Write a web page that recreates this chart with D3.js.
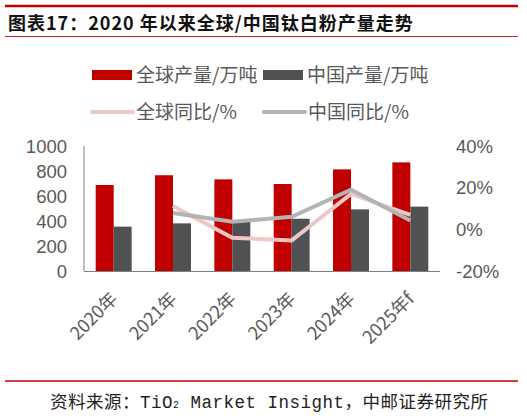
<!DOCTYPE html>
<html>
<head>
<meta charset="utf-8">
<script src="https://cdn.jsdelivr.net/npm/d3@7"></script>
<style>
  body { margin: 0; background: #fff; }
  text { font-family: "Noto Sans CJK SC", "Liberation Sans", sans-serif; }
</style>
</head>
<body>
<div id="chart"></div>
<script>
// data
var years = ["2020年", "2021年", "2022年", "2023年", "2024年", "2025年f"];
var globalOutput = [688, 766, 733, 696, 813, 869];
var chinaOutput = [355, 381, 395, 418, 493, 515];
var globalYoy = [null, 11.2, -4.0, -5.3, 17.0, 6.9];
var chinaYoy = [null, 7.8, 3.6, 6.0, 19.0, 4.2];
var leftTicks = [0, 200, 400, 600, 800, 1000];
var rightTicks = [-20, 0, 20, 40];

var red = "#c00000", dark = "#4f5153", pink = "#efc7c7", grey = "#b3b3b3";

var svg = d3.select("#chart").append("svg").attr("width", 527).attr("height", 416);

// frame lines + title
svg.append("line").attr("x1", 5).attr("x2", 518).attr("y1", 6).attr("y2", 6).attr("stroke", red).attr("stroke-width", 2.5);
svg.append("line").attr("x1", 5).attr("x2", 518).attr("y1", 36.5).attr("y2", 36.5).attr("stroke", "#d02020").attr("stroke-width", 1);
svg.append("line").attr("x1", 5).attr("x2", 518).attr("y1", 381).attr("y2", 381).attr("stroke", red).attr("stroke-width", 1.5);
svg.append("text").attr("x", 8).attr("y", 30).attr("font-size", 18).attr("font-weight", "bold")
  .attr("letter-spacing", 1).attr("fill", "#111").text("图表17：2020 年以来全球/中国钛白粉产量走势");

var src = svg.append("text").attr("x", 50).attr("y", 408).attr("font-size", 17.5).attr("letter-spacing", 0.5).attr("fill", "#222");
src.append("tspan").text("资料来源：");
src.append("tspan").style("font-family", "'Liberation Mono', monospace").text("TiO");
src.append("tspan").style("font-family", "'Liberation Mono', monospace").attr("font-size", 10).text("2");
src.append("tspan").style("font-family", "'Liberation Mono', monospace").text(" Market Insight");
src.append("tspan").text("，中邮证券研究所");

// scales
var x = d3.scaleBand().domain(years).range([84, 440]);
var x1 = d3.scaleBand().domain(["g", "c"]).range([0, x.bandwidth()]).paddingOuter(0.65);
var y = d3.scaleLinear().domain([0, 1000]).range([271, 146]);
var y2 = d3.scaleLinear().domain([-20, 40]).range([271, 146]);

// bars
var groups = svg.selectAll("g.yr").data(years).enter().append("g").attr("transform", function(d) { return "translate(" + x(d) + ",0)"; });
groups.append("rect").attr("x", x1("g")).attr("width", x1.bandwidth())
  .attr("y", function(d, i) { return y(globalOutput[i]); })
  .attr("height", function(d, i) { return y(0) - y(globalOutput[i]); }).attr("fill", red);
groups.append("rect").attr("x", x1("c")).attr("width", x1.bandwidth())
  .attr("y", function(d, i) { return y(chinaOutput[i]); })
  .attr("height", function(d, i) { return y(0) - y(chinaOutput[i]); }).attr("fill", dark);

// axes
svg.append("line").attr("x1", 84).attr("x2", 84).attr("y1", 146).attr("y2", 271).attr("stroke", "#7f7f7f");
svg.append("line").attr("x1", 84).attr("x2", 440).attr("y1", 271.5).attr("y2", 271.5).attr("stroke", "#7f7f7f");

svg.selectAll("text.yl").data(leftTicks).enter().append("text")
  .attr("x", 67).attr("y", function(d) { return y(d) + 6.5; }).attr("text-anchor", "end")
  .attr("font-size", 18.5).style("font-family", "'Liberation Sans', Arial, sans-serif").attr("fill", "#595959").text(function(d) { return d; });
svg.selectAll("text.yr2").data(rightTicks).enter().append("text")
  .attr("x", 456).attr("y", function(d) { return y2(d) + 6.5; })
  .attr("font-size", 18.5).style("font-family", "'Liberation Sans', Arial, sans-serif").attr("fill", "#595959").text(function(d) { return d + "%"; });
svg.selectAll("text.xl").data(years).enter().append("text")
  .attr("transform", function(d) { return "translate(" + (x(d) + x.bandwidth() / 2 + 5) + ",300) rotate(-45)"; })
  .attr("text-anchor", "end").attr("font-size", 18).attr("fill", "#595959").text(function(d) { return d; });

// lines
var line = d3.line().defined(function(d) { return d != null; })
  .x(function(d, i) { return x(years[i]) + x.bandwidth() / 2; })
  .y(function(d) { return y2(d); });
svg.append("path").datum(globalYoy).attr("d", line).attr("fill", "none").attr("stroke", pink).attr("stroke-width", 4);
svg.append("path").datum(chinaYoy).attr("d", line).attr("fill", "none").attr("stroke", grey).attr("stroke-width", 4);

// legend
var leg = [
  { name: "全球产量/万吨", color: red, type: "bar", x: 92, y: 75 },
  { name: "中国产量/万吨", color: dark, type: "bar", x: 263, y: 75 },
  { name: "全球同比/%", color: pink, type: "line", x: 92, y: 112 },
  { name: "中国同比/%", color: grey, type: "line", x: 264, y: 112 }
];
leg.forEach(function(d) {
  if (d.type === "bar") {
    svg.append("rect").attr("x", d.x).attr("y", d.y - 5).attr("width", 40).attr("height", 10).attr("fill", d.color);
  } else {
    svg.append("line").attr("x1", d.x).attr("x2", d.x + 41).attr("y1", d.y).attr("y2", d.y).attr("stroke", d.color).attr("stroke-width", 4).attr("stroke-linecap", "round");
  }
  svg.append("text").attr("x", d.x + 44).attr("y", d.y + 7).attr("font-size", 19).attr("fill", "#595959").text(d.name);
});
</script>
</body>
</html>
